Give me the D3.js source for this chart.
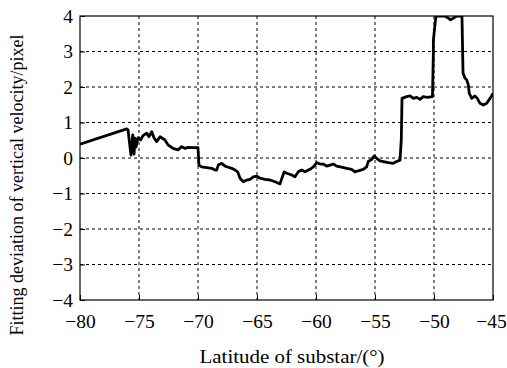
<!DOCTYPE html>
<html>
<head>
<meta charset="utf-8">
<script src="https://cdn.jsdelivr.net/npm/d3@7/dist/d3.min.js"></script>
<style>
  html, body { margin: 0; padding: 0; background: #fff; }
  svg { display: block; }
  text { font-family: "Liberation Serif", "Times New Roman", serif; fill: #000; }
</style>
</head>
<body>
<svg id="chart" width="507" height="368"></svg>
<script>
// Latitude of substar (degrees)
const latitude = [
  -80.00, -76.04, -75.93, -75.68, -75.53, -75.42, -75.34, -75.25, -75.08, -74.86,
  -74.66, -74.35, -74.15, -73.92, -73.73, -73.50, -73.22, -72.99, -72.80, -72.54,
  -72.12, -71.69, -71.38, -71.10, -70.85, -70.42, -70.00, -69.92, -69.69, -69.26,
  -68.84, -68.56, -68.42, -68.28, -67.99, -67.71, -67.43, -67.14, -66.86, -66.64,
  -66.44, -66.16, -65.87, -65.59, -65.31, -65.02, -64.75, -64.32, -63.90, -63.47,
  -63.05, -62.86, -62.69, -62.48, -62.06, -61.78, -61.50, -61.21, -60.93, -60.51,
  -60.23, -59.94, -59.66, -59.38, -59.09, -58.81, -58.53, -58.25, -57.83, -57.40,
  -56.98, -56.70, -56.42, -56.00, -55.71, -55.57, -55.28, -55.06, -54.86, -54.58,
  -54.30, -53.87, -53.45, -53.17, -52.88, -52.77, -52.71, -52.31, -52.03, -51.75,
  -51.46, -51.19, -50.91, -50.57, -50.13, -50.06, -50.05, -49.92, -49.83, -49.07,
  -48.79, -48.59, -48.36, -48.08, -47.63, -47.54, -47.37, -47.23, -47.09, -47.01,
  -46.80, -46.53, -46.33, -46.10, -45.82, -45.53, -45.25, -45.00
];
// Fitting deviation of vertical velocity (pixel)
const deviation = [
   0.39,  0.82,  0.79,  0.08,  0.65,  0.11,  0.56,  0.31,  0.57,  0.51,
   0.63,  0.70,  0.60,  0.74,  0.57,  0.46,  0.60,  0.55,  0.51,  0.37,
   0.27,  0.23,  0.32,  0.27,  0.30,  0.29,  0.29, -0.20, -0.25, -0.27,
  -0.29, -0.34, -0.34, -0.20, -0.15, -0.23, -0.26, -0.29, -0.34, -0.39,
  -0.57, -0.67, -0.62, -0.60, -0.53, -0.51, -0.57, -0.60, -0.62, -0.67,
  -0.73, -0.54, -0.39, -0.43, -0.48, -0.53, -0.39, -0.34, -0.39, -0.32,
  -0.25, -0.13, -0.17, -0.17, -0.23, -0.20, -0.17, -0.23, -0.26, -0.29,
  -0.32, -0.39, -0.36, -0.32, -0.25, -0.10, -0.04,  0.06, -0.01, -0.08,
  -0.10, -0.13, -0.15, -0.10, -0.06,  0.53,  1.68,  1.73,  1.75,  1.68,
   1.71,  1.65,  1.73,  1.71,  1.73,  2.85,  3.32,  3.75,  4.00,  4.00,
   3.94,  3.89,  3.94,  4.00,  4.00,  2.39,  2.25,  2.20,  2.06,  1.82,
   1.68,  1.75,  1.68,  1.54,  1.49,  1.54,  1.68,  1.82
];
const xTicks = [-80, -75, -70, -65, -60, -55, -50, -45];
const yTicks = [-4, -3, -2, -1, 0, 1, 2, 3, 4];

const svg = d3.select("#chart");
const margin = { left: 80, top: 16, right: 14, bottom: 68 };
const W = 507, H = 368;
const iw = W - margin.left - margin.right;
const ih = H - margin.top - margin.bottom;

const x = d3.scaleLinear().domain([-80, -45]).range([0, iw]);
const y = d3.scaleLinear().domain([-4, 4]).range([ih, 0]);

const g = svg.append("g").attr("transform", `translate(${margin.left},${margin.top})`);

g.append("clipPath").attr("id", "plot-clip")
  .append("rect").attr("width", iw).attr("height", ih);

// dashed grid
g.append("g").selectAll("line").data(xTicks.slice(1, -1)).join("line")
  .attr("x1", d => x(d)).attr("x2", d => x(d))
  .attr("y1", 0).attr("y2", ih)
  .attr("stroke", "#000").attr("stroke-width", 1).attr("stroke-dasharray", "3,3");
g.append("g").selectAll("line").data(yTicks.slice(1, -1)).join("line")
  .attr("x1", 0).attr("x2", iw)
  .attr("y1", d => y(d)).attr("y2", d => y(d))
  .attr("stroke", "#000").attr("stroke-width", 1).attr("stroke-dasharray", "3,3");

// axes with inward ticks
const xAxis = g.append("g").attr("transform", `translate(0,${ih})`)
  .call(d3.axisBottom(x).tickValues(xTicks).tickSize(-5).tickPadding(14).tickFormat(d3.format("d")));
const yAxis = g.append("g")
  .call(d3.axisLeft(y).tickValues(yTicks).tickSize(-5).tickPadding(7).tickFormat(d3.format("d")));
[xAxis, yAxis].forEach(a => {
  a.select(".domain").remove();
  a.selectAll("line").attr("stroke", "#000");
  a.selectAll("text").style("font-family", '"Liberation Serif", serif').style("font-size", "19.5px");
});
// keep the last x label inside the page
xAxis.selectAll("text").filter(d => d === -45).attr("dx", "-2");

// frame
g.append("rect").attr("width", iw).attr("height", ih)
  .attr("fill", "none").attr("stroke", "#000").attr("stroke-width", 1.2);

// data line
const pts = latitude.map((v, i) => [v, deviation[i]]);
g.append("path")
  .datum(pts)
  .attr("clip-path", "url(#plot-clip)")
  .attr("fill", "none")
  .attr("stroke", "#000")
  .attr("stroke-width", 2.8)
  .attr("stroke-linejoin", "round")
  .attr("d", d3.line().x(d => x(d[0])).y(d => y(d[1])));

// axis titles
svg.append("text")
  .attr("x", 292).attr("y", 363)
  .attr("text-anchor", "middle").style("font-size", "18px")
  .attr("textLength", 185).attr("lengthAdjust", "spacingAndGlyphs")
  .text("Latitude of substar/(°)");
svg.append("text")
  .attr("transform", `translate(23,185) rotate(-90)`)
  .attr("text-anchor", "middle").style("font-size", "18px")
  .text("Fitting deviation of vertical velocity/pixel");
</script>
</body>
</html>
